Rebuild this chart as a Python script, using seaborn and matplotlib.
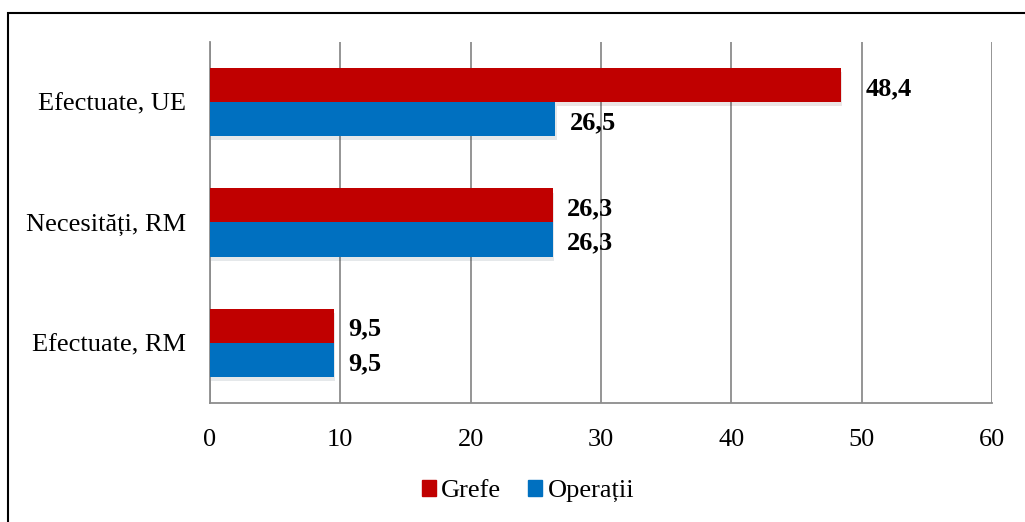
import matplotlib
matplotlib.use('Agg')
import matplotlib.pyplot as plt
import matplotlib.patheffects as pe
from matplotlib.patches import Rectangle, Patch
import seaborn as sns
import pandas as pd

categories = ['Efectuate, UE', 'Necesități, RM', 'Efectuate, RM']
series = ['Grefe', 'Operații']
grefe = [48.4, 26.3, 9.5]
operatii = [26.5, 26.3, 9.5]
x_ticks = [0, 10, 20, 30, 40, 50, 60]
colors = {'Grefe': '#C00000', 'Operații': '#0070C0'}


def main():
    sns.set_style('white')
    plt.rcParams['font.family'] = ['Liberation Serif', 'DejaVu Serif']
    plt.rcParams['text.color'] = 'black'
    plt.rcParams['xtick.labelcolor'] = 'black'
    plt.rcParams['ytick.labelcolor'] = 'black'

    df = pd.DataFrame({
        'cat': categories * 2,
        'serie': ['Grefe'] * 3 + ['Operații'] * 3,
        'val': grefe + operatii,
    })

    fig = plt.figure(figsize=(10.25, 5.22), dpi=100)
    ax = fig.add_axes([0.2049, 0.228, 0.7629, 0.6916])

    sns.barplot(data=df, y='cat', x='val', hue='serie', order=categories,
                hue_order=series, palette=colors, orient='h', width=0.567,
                saturation=1, legend=False, ax=ax, zorder=3, linewidth=0)

    for bar in ax.patches:
        bar.set_path_effects([pe.SimplePatchShadow(offset=(1, -3), alpha=0.1),
                              pe.Normal()])

    for cont in ax.containers:
        labels = [f'{v:.1f}'.replace('.', ',') for v in cont.datavalues]
        texts = ax.bar_label(cont, labels=labels, padding=10.5, fontsize=19,
                             fontweight='bold', color='black')
        for t, v in zip(texts, cont.datavalues):
            # the 48,4 label sits further right, clear of the 50 gridline
            dx = 18 if v == max(grefe) else t.xyann[0]
            t.xyann = (dx, -2.5)

    ax.set_xlim(0, 60)
    ax.set_xticks(x_ticks)
    ax.set_ylim(2.5, -0.5)
    ax.set_xlabel('')
    ax.set_ylabel('')

    grid_c = '#8c8c8c'
    ax.grid(axis='x', color=grid_c, linewidth=1.3, zorder=0)
    ax.set_axisbelow(True)
    for s in ['top', 'right']:
        ax.spines[s].set_visible(False)
    for s in ['left', 'bottom']:
        ax.spines[s].set_color(grid_c)
        ax.spines[s].set_linewidth(1.3)

    ax.tick_params(axis='x', length=7, width=1.3, color=grid_c,
                   labelsize=19, pad=12)
    ax.tick_params(axis='y', which='major', length=0, labelsize=19, pad=17)
    ax.set_yticks([-0.5, 0.5, 1.5, 2.5], minor=True)
    ax.tick_params(axis='y', which='minor', length=6, width=1.3,
                   color=grid_c)

    handles = [Patch(color=colors[s], label=s) for s in series]
    fig.legend(handles=handles, loc='center', bbox_to_anchor=(0.515, 0.059),
               ncol=2, frameon=False, fontsize=19, handlelength=0.55,
               handleheight=0.55, handletextpad=0.2, columnspacing=1.0)

    fig.patches.append(Rectangle((8 / 1025, -0.2), 1.2, 1.2 - 13 / 522,
                                 transform=fig.transFigure, fill=False,
                                 edgecolor='black', linewidth=1.5))

    plt.savefig('out.png', dpi=100)


if __name__ == "__main__":
    main()
